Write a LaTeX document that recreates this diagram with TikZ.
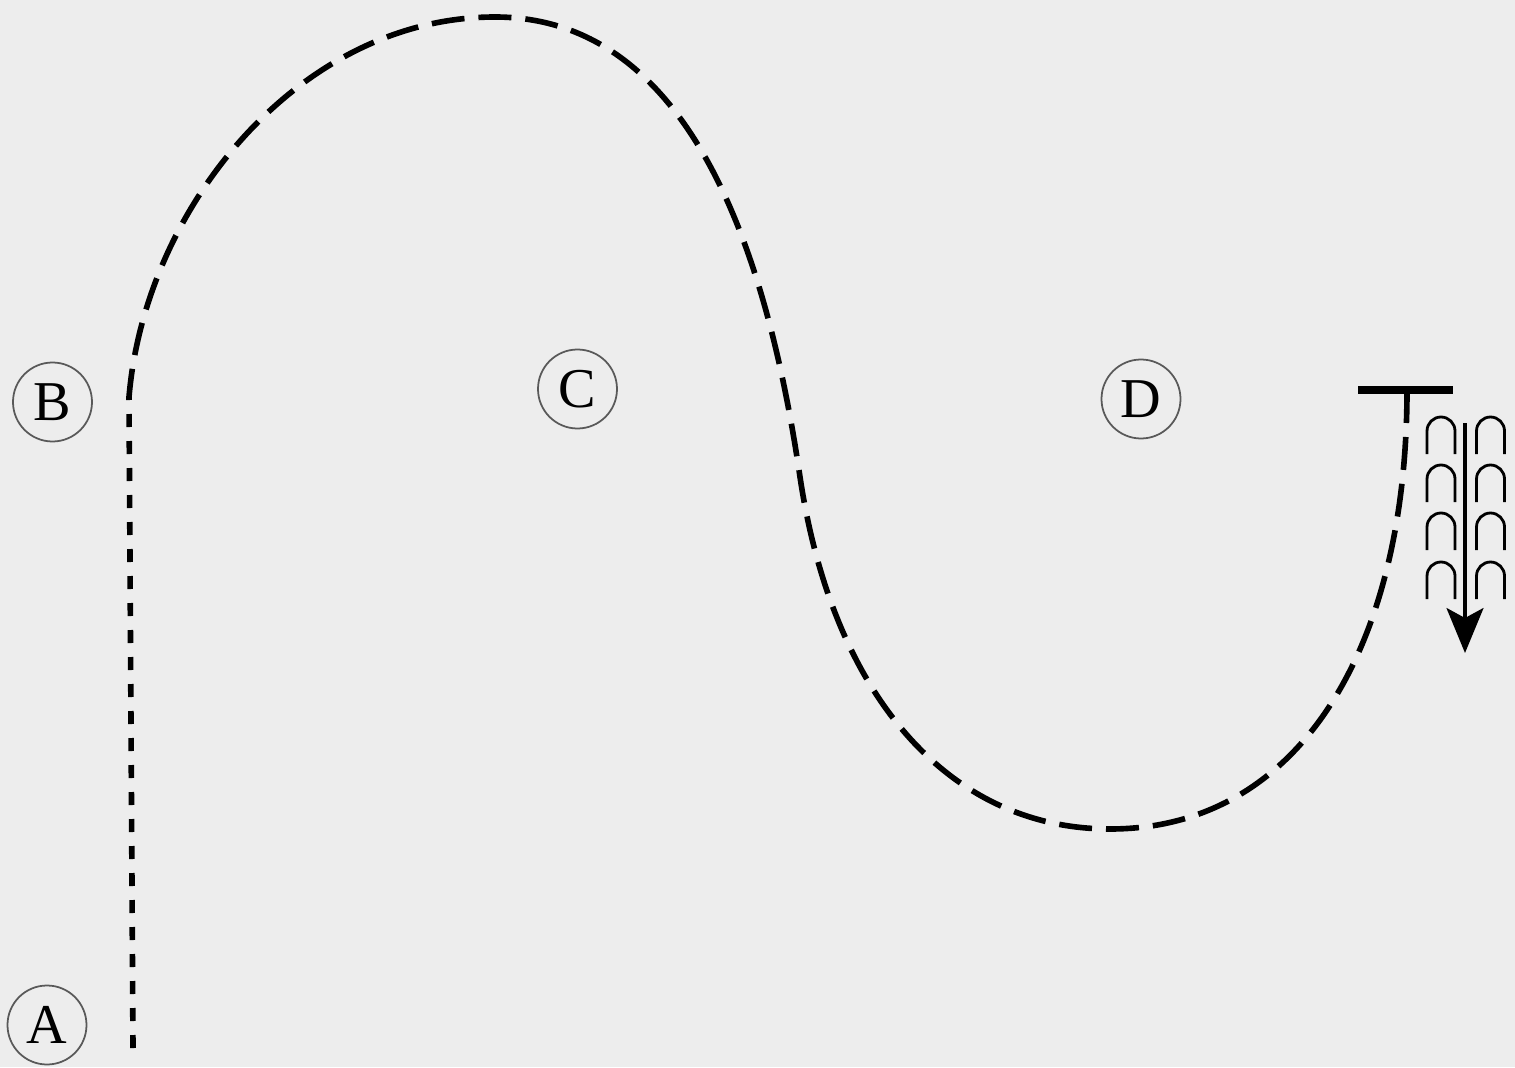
\documentclass[tikz,border=0pt]{standalone}
\usepackage{fontspec}
\setmainfont{Liberation Serif}
\usetikzlibrary{arrows.meta}

\begin{document}
\begin{tikzpicture}[>=Stealth,
    marco/.style={circle, draw=black!65, line width=0.5pt, minimum size=0.79cm, inner sep=0pt, font=\fontsize{16}{19}\selectfont},
    tracejado/.style={line width=1.6pt, dash pattern=on 0.33cm off 0.14cm},
    pontilhado/.style={line width=1.6pt, dash pattern=on 0.13cm off 0.14cm},
    arco/.style={line width=0.8pt}]
    % Fundo
    \fill[black!7] (0,0) rectangle (15.15,10.67);

    % Rótulos
    \node[marco] (A) at (0.47,0.42) {A};
    \node[marco] (B) at (0.525,6.65) {B};
    \node[marco] (C) at (5.775,6.78) {C};
    \node[marco] (D) at (11.41,6.68) {D};

    % Trajeto
    \coordinate (ini) at (1.33,0.19);
    \coordinate (vira) at (1.29,6.70);
    \coordinate (topo) at (4.95,10.50);
    \coordinate (meio) at (8.0,5.9);
    \coordinate (fundo) at (11.1,2.38);
    \coordinate (fim) at (14.07,6.77);
    \draw[pontilhado] (ini) -- (vira);
    \draw[tracejado] (fim) .. controls (14.07,4.2) and (13.0,2.38) .. (fundo)
        .. controls (9.5,2.38) and (8.33,3.7) .. (meio)
        .. controls (7.62,8.5) and (6.75,10.5) .. (topo)
        .. controls (3.0,10.5) and (1.45,8.6) .. (vira);

    % Barra e fluxo
    \draw[line width=2.2pt] (13.58,6.77) -- (14.53,6.77);
    \foreach \y in {6.50,6.02,5.54,5.05} {
        \foreach \x in {14.41,14.905} {
            \draw[arco] (\x-0.14,\y-0.37) -- (\x-0.14,\y-0.14) arc (180:0:0.14) -- (\x+0.14,\y-0.37);
        }
    }
    \coordinate (seta-ini) at (14.65,6.44);
    \coordinate (seta-fim) at (14.65,4.14);
    \draw[line width=0.9pt, -{Stealth[length=4.5mm, width=3.7mm, inset=1mm]}] (seta-ini) -- (seta-fim);
\end{tikzpicture}
\end{document}
